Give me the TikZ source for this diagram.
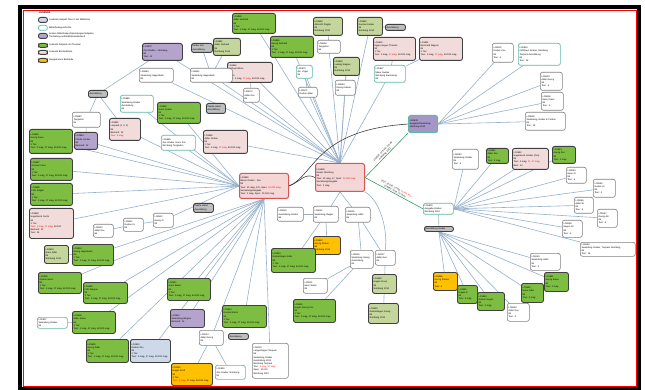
\documentclass[tikz,border=0pt]{standalone}
\usepackage{fontspec}
\setmainfont{Liberation Sans}
\pgfdeclarelayer{bg}
\pgfsetlayers{bg,main}
\definecolor{cgreen}{RGB}{125,190,66}
\definecolor{colive}{RGB}{196,214,155}
\definecolor{cpink}{RGB}{242,220,219}
\definecolor{chub}{RGB}{245,214,214}
\definecolor{chubr}{RGB}{215,85,85}
\definecolor{cpurple}{RGB}{180,164,205}
\definecolor{corange}{RGB}{255,192,0}
\definecolor{clblue}{RGB}{205,217,232}
\definecolor{cteal}{RGB}{95,185,165}
\definecolor{cgray}{RGB}{190,190,190}
\definecolor{cdark}{RGB}{64,64,64}
\definecolor{cedge}{RGB}{150,176,204}
\definecolor{cgline}{RGB}{55,160,105}
\definecolor{chubc}{RGB}{165,150,200}
\newcommand{\ft}{\fontsize{2.3}{3.2}\selectfont}
\newcommand{\bx}[7]{%
  \pgfmathsetmacro{\bxw}{#5-#3}\pgfmathsetmacro{\bxh}{#6-#4}\pgfmathsetmacro{\bxt}{#5-#3-2.4}%
  \node[#1, anchor=north west, minimum width=\bxw pt, minimum height=\bxh pt,
        text width=\bxt pt, inner xsep=1.2pt, inner ysep=0.6pt, align=left] (#2) at (#3,#4) {#7};}
\newcommand{\NdG}[2]{#1\\#2\\85\\1 Tier\\Tour: 1 mag, 17 mag, 60.000 mag}
\newcommand{\NdP}[2]{#1\\#2\\85\\1 Tier\\Tour: 1 mag, {\color{red}17 mag}, 60.000 mag}
\newcommand{\NdW}[2]{#1\\#2\\85}
\newcommand{\NdO}[2]{#1\\#2\\85\\Nürnberg 2012}
\newcommand{\NdR}[2]{#1\\#2\\85\\Tour: 4}
\newcommand{\NdS}[2]{#1\\#2\\85\\Tour: 2 mag}
\tikzset{
  base/.style={rounded corners=2.2pt, font=\ft, text=black},
  gn/.style={base, fill=cgreen, draw=cdark, line width=0.9pt},
  ol/.style={base, fill=colive, draw=cdark, line width=0.9pt},
  pk/.style={base, fill=cpink, draw=cdark, line width=0.9pt},
  hb/.style={base, fill=chub, draw=chubr, line width=1pt},
  pu/.style={base, fill=cpurple, draw=cdark, line width=0.9pt},
  og/.style={base, fill=corange, draw=cdark, line width=0.9pt},
  lb/.style={base, fill=clblue, draw=cdark, line width=0.9pt},
  wh/.style={base, fill=white, draw=gray, line width=0.6pt},
  tl/.style={base, fill=white, draw=cteal, line width=0.7pt},
  gy/.style={base, fill=cgray, draw=cdark, line width=0.9pt},
  hc/.style={base, fill=chubc, draw=cteal, line width=1.1pt},
  ln/.style={draw=cedge, line width=0.6pt},
  dk/.style={draw=cdark, line width=0.6pt},
  gl/.style={draw=cgline, line width=0.6pt},
  lab/.style={font=\ft, inner sep=0.4pt, align=center},
  lgt/.style={font=\ft, anchor=west, inner sep=0pt, align=left}
}
\begin{document}
\begin{tikzpicture}[x=1pt,y=-1pt]
\useasboundingbox (0,0) rectangle (645,390);
\begin{pgfonlayer}{bg}
\fill[white] (0,0) rectangle (645,390);
\end{pgfonlayer}
\draw[line width=4.5pt] (20,7) rectangle (639,389);
\draw[red, line width=0.6pt] (23,10.2) rectangle (636,386.6);
% legend
\node[font=\ft\bfseries, anchor=west, inner sep=0pt] (lgh) at (39,13) {LEGENDE};
\bx{lb}{lg1}{38}{17}{47}{22}{}
\bx{tl}{lg2}{38}{25}{47}{30}{}
\bx{pu}{lg3}{38}{33}{47}{38}{}
\bx{gn}{lg4}{38}{43}{47}{47}{}
\bx{pk}{lg5}{38}{50}{47}{54}{}
\bx{og}{lg6}{38}{58}{47}{62}{}
\node[lgt] (lt1) at (49,19.5) {Laufende Subjekt-Tiere in der Bibliothek};
\node[lgt] (lt2) at (49,27.5) {Bibliotheksgeschichte};
\node[lgt] (lt3) at (49,35.5) {Andere Bibliotheken/Sammlungen/Subjekte,\\Tierhaltung und Bibliotheksbestand};
\node[lgt] (lt4) at (49,45) {Lebende Subjekte mit Tourplan};
\node[lgt] (lt5) at (49,52) {Lebende Bestandsliste};
\node[lgt] (lt6) at (49,60) {Neugeborene Bestände};
% top
\bx{pu}{n1}{142}{43}{182}{60}{LC6870\\Zoo Gruber - Nürnberg\\85\\Tour: 12}
\bx{wh}{n2}{139}{68}{173}{82}{\NdW{LC6880}{Sammlung Hagenbeck}}
\bx{gy}{n3}{191}{43}{212}{52}{Kinder Zoo\\Ausstellung}
\bx{ol}{n4}{213}{38}{240}{55}{\NdO{LC6881}{Adler Gerhard}}
\bx{gn}{n5}{232}{13}{275}{33}{\NdG{LC6855}{Adler Gerhard}}
\bx{gn}{n6}{270}{36}{313}{57}{\NdG{LC6856}{Georg Gerhard}}
\bx{ol}{n7}{313}{17}{342}{35}{\NdO{LC6860}{Albrecht Ziegler}}
\bx{wh}{n8}{317}{40}{340}{53}{\NdW{LC6866}{Tiergarten}}
\bx{ol}{n9}{357}{17}{382}{35}{\NdO{LC6862}{Gustav Kramer}}
\bx{gy}{n10}{385}{24}{405}{30}{Ausstellung}
\bx{pk}{n11}{373}{37}{415}{60}{\NdP{LC6830}{Egger Hagen Theodor}}
\bx{pk}{n12}{419}{37}{462}{60}{\NdP{LC6831}{Bernhard Wagner}}
\bx{ol}{n13}{333}{57}{359}{75}{\NdO{LC6863}{Ludwig Wagner}}
\bx{tl}{n14}{374}{65}{405}{82}{LC6837\\Maier Gustav\\Nürnberg Sammlung\\85}
\bx{wh}{n15}{335}{80}{355}{95}{\NdW{LC6864}{Georg Kramer}}
\bx{tl}{n16}{296}{65}{312}{78}{\NdW{LC6870}{Ad. Vogel}}
\bx{wh}{n17}{298}{87}{317}{97}{LC6871\\Gustav Adler}
\bx{wh}{n18}{243}{88}{259}{102}{\NdW{LC6872}{Adler Gru.}}
\bx{pk}{n19}{227}{62}{272}{82}{\NdP{LC6850}{Michael Weiss}}
\bx{wh}{n20}{190}{68}{232}{82}{\NdW{LC6851}{Sammlung Hagenbeck}}
\bx{gy}{n21}{206}{103}{225}{113}{Zweite Hand\\Ausstellung}
% left
\bx{gy}{n22}{88}{90}{107}{97}{Ausstellung}
\bx{tl}{n23}{120}{95}{153}{112}{LC6889\\Sammlung Gruber\\Ausstellung\\85}
\bx{wh}{n24}{72}{112}{100}{127}{\NdW{LC6890}{Tiergarten}}
\bx{pk}{n25}{109}{118}{140}{140}{LC6891\\Leopard (1, 2, 3)\\85\\Bestand: 12\\{\color{red}Tour: 4 mag}}
\bx{gn}{n26}{157}{102}{200}{123}{\NdG{LC6892}{Hans Gruber}}
\bx{gn}{n27}{29}{129}{72}{153}{\NdG{LC6893}{Georg Kraus}}
\bx{pu}{n28}{74}{132}{97}{149}{LC6894\\Pferde Gruber\\85\\Bestand: 12}
\bx{tl}{n29}{161}{135}{195}{150}{LC6895\\Zoo Gruber, Hans Zoo\\Nürnberg Tiergarten}
\bx{pk}{n30}{203}{130}{247}{153}{\NdP{LC6896}{Adler Gruber}}
\bx{gn}{n31}{30}{158}{72}{180}{\NdG{LC6897}{Gustav Kraus}}
\bx{gn}{n32}{30}{183}{72}{205}{\NdG{LC6898}{Fritz Ziegler}}
\bx{pk}{n33}{29}{208}{73}{238}{LC6899\\Hagenbeck Fuchs\\85\\1 Tier\\{\color{red}Tour: 1 mag, 17 mag}, 60.000\\Bestand: 12\\Tour: 15}
\bx{wh}{n34}{93}{224}{113}{237}{\NdW{LC6900}{Adler Gru.}}
\bx{wh}{n35}{123}{218}{143}{231}{\NdW{LC6901}{Gustav Kr.}}
\bx{wh}{n36}{153}{213}{173}{227}{\NdW{LC6902}{Georg Zi.}}
\bx{ol}{n37}{44}{245}{68}{263}{\NdO{LC6903}{Hans Adler}}
\bx{gn}{n38}{72}{244}{113}{265}{\NdG{LC6904}{Georg Hagenbeck}}
\bx{gn}{n39}{38}{272}{81}{293}{\NdG{LC6905}{Gruber Hans}}
\bx{gn}{n40}{83}{282}{127}{303}{\NdG{LC6906}{Fritz Wagner}}
\bx{tl}{n41}{37}{317}{67}{328}{\NdW{LC6907}{Sammlung Gruber}}
\bx{gn}{n42}{72}{311}{115}{333}{\NdG{LC6908}{Adler Kraus}}
\bx{gn}{n43}{86}{339}{128}{362}{\NdG{LC6909}{Georg Adler}}
\bx{lb}{n44}{130}{339}{170}{362}{\NdG{LC6910}{Gruber Zoo}}
\bx{gn}{n45}{167}{278}{210}{300}{\NdG{LC6911}{Hans Weiss}}
\bx{pu}{n46}{170}{309}{204}{327}{LC6912\\Sammlung Wagner\\Bestand: 12}
\bx{gn}{n47}{222}{305}{266}{327}{\NdG{LC6913}{Gustav Weiss}}
\bx{gy}{n48}{228}{333}{248}{339}{Ausstellung}
\bx{wh}{n49}{199}{330}{223}{345}{\NdW{LC6914}{Adler Georg}}
\bx{wh}{n50}{252}{343}{288}{378}{LC6930\\Langenhagen Tierpark\\85\\Sammlung Gruber\\Ausstellung 2012\\Nürnberg Tierpark\\Tour: {\color{red}2 mag, 17 mag}\\Spez: 10.000\\Nürnberg 2012}
\bx{og}{n51}{171}{363}{212}{385}{LC6915\\Hagen Kraft\\85\\1 Tier\\{\color{red}Tour: 1 mag}, 17 mag, 60.000 mag}
\bx{tl}{n52}{215}{365}{245}{379}{\NdW{LC6916}{Zoo Gruber, Nürnberg}}
% center
\bx{hb}{hubA}{239}{173}{288}{198}{LC6860\\Bären Gruber - Zoo\\85\\Tour: 20 mag, 170, Spez: {\color{red}10.000 mag}\\Sammlung/Ausgabe\\Tour: 2 mag, Spez: 10.000 mag}
\bx{hb}{hubB}{315}{163}{364}{191}{LC6808\\Kaiser Nürnberg\\85\\Tour: 20 mag, 17, Spez: {\color{red}10.000 mag}\\Sammlung/Ausgabe\\Tour: 2 mag}
\bx{gy}{n53}{193}{203}{213}{212}{Zweite Hand\\Ausstellung}
\bx{wh}{n54}{277}{207}{303}{221}{\NdW{LC6920}{Ausstellung Gruber}}
\bx{wh}{n55}{313}{206}{338}{222}{\NdW{LC6921}{Sammlung Ziegler}}
\bx{og}{n56}{313}{236}{340}{254}{\NdO{LC6922}{Georg Gruber}}
\bx{gn}{n57}{271}{248}{315}{272}{\NdG{LC6923}{Gruberhagen Adler}}
\bx{wh}{n58}{345}{207}{370}{222}{\NdW{LC6925}{Sammlung Adler}}
\bx{wh}{n59}{350}{250}{373}{268}{LC6926\\Sammlung Georg\\Ausstellung\\85}
\bx{wh}{n60}{375}{250}{395}{265}{\NdW{LC6927}{Adler Gus.}}
\bx{ol}{n61}{372}{274}{396}{293}{\NdO{LC6928}{Hagen Kraus}}
\bx{ol}{n62}{368}{303}{398}{323}{\NdO{LC6929}{Gruberhagen Georg}}
\bx{wh}{n63}{303}{278}{327}{293}{\NdW{LC6931}{Hans Weiss}}
\bx{gn}{n64}{293}{299}{335}{322}{\NdG{LC6932}{Hagen Georg Zoo}}
% right
\bx{hc}{hubC}{408}{115}{437}{132}{LC6808\\Ausgabe/Sammlung\\Nürnberg 2012}
\bx{wh}{n65}{492}{43}{513}{62}{\NdR{LC6832}{Gruber Zoo}}
\bx{tl}{n66}{518}{43}{560}{65}{LC6833\\Kühlhaus Gruber, Nürnberg\\Tierpark Ausstellung\\85\\Tour: 16}
\bx{wh}{n67}{540}{72}{562}{90}{\NdR{LC6834}{Adler Georg}}
\bx{wh}{n68}{541}{92}{563}{110}{\NdR{LC6835}{Hans Kraus}}
\bx{wh}{n69}{525}{112}{565}{130}{LC6836\\Sammlung Gruber \& Partner\\85\\Tour: 16}
\bx{tl}{hubD}{423}{203}{453}{214}{LC6830\\Ausgabe Gruber\\Nürnberg 2012}
\bx{gy}{hubE}{424}{226}{453}{231}{Ausstellung Gruber}
\bx{wh}{n70}{452}{149}{478}{169}{\NdR{LC6940}{Sammlung Gruber}}
\bx{gn}{n71}{486}{148}{508}{163}{\NdS{LC6941}{Adler Zoo}}
\bx{pk}{n72}{512}{148}{548}{169}{LC6942\\Hagenbeck Gruber (Zoo)\\85\\Tour: 2 mag, {\color{red}17, 17 mag}\\Best: 12}
\bx{gn}{n73}{552}{146}{575}{163}{\NdS{LC6943}{Georg Zoo}}
\bx{wh}{n74}{566}{167}{586}{183}{\NdR{LC6944}{Hans Zi.}}
\bx{wh}{n75}{593}{179}{615}{197}{\NdR{LC6945}{Gruber Kr.}}
\bx{wh}{n76}{574}{197}{593}{213}{\NdR{LC6946}{Adler W.}}
\bx{wh}{n77}{597}{209}{617}{227}{\NdR{LC6947}{Georg Ad.}}
\bx{wh}{n78}{562}{220}{582}{237}{\NdR{LC6948}{Hagen Gr.}}
\bx{wh}{n79}{580}{242}{635}{256}{LC6949\\Sammlung Gruber, Tierpark Nürnberg\\85\\Tour: 16}
\bx{wh}{n80}{530}{253}{560}{270}{\NdR{LC6950}{Sammlung Adler}}
\bx{gn}{n81}{544}{272}{568}{291}{\NdS{LC6951}{Georg Kraus}}
\bx{gn}{n82}{521}{283}{543}{302}{\NdS{LC6952}{Hans Adler}}
\bx{gn}{n83}{477}{292}{504}{310}{\NdS{LC6953}{Gruber Hagen}}
\bx{wh}{n84}{507}{303}{529}{321}{\NdR{LC6954}{Adler Gus.}}
\bx{gn}{n85}{457}{285}{477}{303}{\NdS{LC6955}{Hagen Z.}}
\bx{og}{n86}{433}{272}{457}{290}{\NdR{LC6956}{Georg Kramer}}
% connectors
\begin{pgfonlayer}{bg}
\foreach \t in {n27,n28,n25,n31,n32,n33,n36,n29,n23,n26}
  \draw[ln] (hubA.west) -- (\t);
\foreach \t in {n38,n39,n40,n42,n43,n44,n45,n46,n47,n49,n50}
  \draw[ln] (hubA.south) -- (\t);
\foreach \t in {n1,n2,n20,n19,n18,n5,n6,n17,n16,n8,n15,n13,n9,n14,n30}
  \draw[ln] (hubB.north) -- (\t);
\draw[ln] (n22) -- (n1);
\draw[ln] (n22) -- (n24);
\draw[ln] (n22) -- (n25);
\draw[ln] (n24) -- (n28);
\draw[ln] (n34) -- (n35);
\draw[ln] (n35) -- (n36);
\draw[ln] (n37) -- (n38);
\draw[ln] (n41) -- (n42);
\draw[ln] (n49) -- (n51);
\draw[ln] (n49) -- (n52);
\draw[ln] (n3) -- (n20);
\draw[ln] (n4) -- (n20);
\draw[ln] (n19) -- (n18);
\draw[ln] (n16) -- (n17);
\draw[ln] (n7) -- (n8);
\draw[ln] (n13) -- (n15);
\draw[ln] (n9) -- (n10);
\draw[ln] (n14) -- (n12);
\draw[ln] (n11) -- (n14);
\draw[ln] (hubB.south) -- (n55);
\draw[ln] (hubB.south) -- (n58);
\draw[ln] (n54) -- (n55);
\draw[ln] (n55) -- (n56);
\draw[ln] (n55) -- (n57);
\draw[ln] (n58) -- (n59);
\draw[ln] (n58) -- (n60);
\draw[ln] (n59) -- (n63);
\draw[ln] (n59) -- (n64);
\draw[ln] (n60) -- (n61);
\draw[ln] (n61) -- (n62);
\draw[ln] (hubB.south east) .. controls (380,200) and (388,230) .. (n60.north);
\foreach \t in {n65,n66,n67,n68,n69}
  \draw[ln] (hubC.east) -- (\t);
\foreach \t in {n70,n71,n72,n73,n74,n75,n76,n77,n78,n79}
  \draw[ln] (hubD.east) -- (\t);
\draw[ln] (hubD) -- (hubE);
\foreach \t in {n80,n81,n82,n83,n84,n85,n86}
  \draw[ln] (hubE.south) -- (\t);
\draw[dk] (hubA.east) .. controls (315,175) and (315,130) .. (hubC.west);
\draw[dk] (hubA.east) .. controls (300,182) and (305,172) .. (hubB.west);
\draw[gl] (hubB.east) -- node[lab, sloped, above=0.3pt, pos=0.5] (lbc) {LC6808: 10 Tiere, 2 mag\\Nürnberg, 2012} (hubC.south west);
\draw[gl] (hubB.east) -- node[lab, sloped, above=0.3pt, pos=0.5] (lbd) {2012, 10.000, 2 mag, {\color{red}10.000 Tour}\\LC6860: 2014, 20 Tiere} (hubD.west);
\end{pgfonlayer}
\end{tikzpicture}
\end{document}
